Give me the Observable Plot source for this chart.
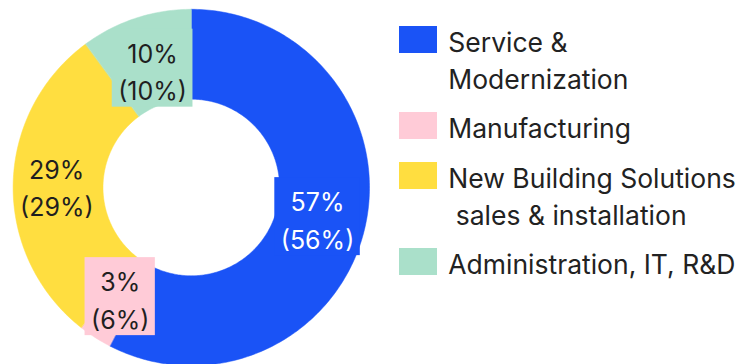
<!DOCTYPE html>
<html><head><meta charset="utf-8">
<script src="https://cdn.jsdelivr.net/npm/d3@7"></script>
<script src="https://cdn.jsdelivr.net/npm/@observablehq/plot@0.6"></script>
<style>
body{margin:0;background:#fff;font-family:Inter,"Noto Sans",sans-serif;}
#wrap{position:relative;width:741px;height:364px;overflow:hidden;background:#fff}
#chart{position:absolute;left:0;top:0}
#legend{position:absolute;left:399px;top:23.6px;font-size:26.5px;line-height:37px;color:#222;font-family:Inter,sans-serif}
.item{display:flex;align-items:flex-start;margin-bottom:12.5px}
.sw{width:38px;height:27px;margin-right:11.3px;margin-top:2.4px;flex:none}
.lab{white-space:pre}
</style></head><body><div id="wrap"><div id="chart"></div><div id="legend"></div></div>
<script>
const categories = ["Service & Modernization", "Manufacturing", "New Building Solutions sales & installation", "Administration, IT, R&D"];
const legendLabels = ["Service &\nModernization", "Manufacturing", "New Building Solutions\n sales & installation", "Administration, IT, R&D"];
const shares = [57, 3, 29, 10];
const priorShares = [56, 6, 29, 10];
const colors = ["#1a53f6", "#ffcbd7", "#ffde40", "#aae0ca"];
const labelColors = ["#ffffff", "#1f1f1f", "#1f1f1f", "#1f1f1f"];

// layout (not data)
const W = 385, H = 364, cxPx = 190.8, cyPx = 187, R = 178.2;
const inner = 88.3 / 178.2, outer = 1;
const labelRadius = [0.729, 0.738, 0.755, 0.696];
const labelBox = [true, true, false, true];
const FS = 25;

const pie = d3.pie().sort(null).value(d => d)(shares);
const poly = [];
const labels = [];
pie.forEach((p, i) => {
  const n = Math.max(8, Math.ceil((p.endAngle - p.startAngle) * 60));
  for (let k = 0; k <= n; k++) {
    const a = p.startAngle + (p.endAngle - p.startAngle) * k / n;
    poly.push({cat: categories[i], x: outer * Math.sin(a), y: outer * Math.cos(a)});
  }
  for (let k = n; k >= 0; k--) {
    const a = p.startAngle + (p.endAngle - p.startAngle) * k / n;
    poly.push({cat: categories[i], x: inner * Math.sin(a), y: inner * Math.cos(a)});
  }
  const m = (p.startAngle + p.endAngle) / 2;
  const lr = labelRadius[i];
  labels.push({cat: categories[i], x: lr * Math.sin(m), y: lr * Math.cos(m), box: labelBox[i],
    text: `${shares[i]}%\n(${priorShares[i]}%)`, second: `(${priorShares[i]}%)`, fill: labelColors[i], bg: colors[i]});
});

const ctx = document.createElement("canvas").getContext("2d");
ctx.font = `${FS}px Inter`;

const marks = [
  Plot.line(poly, {x: "x", y: "y", z: "cat", fill: "cat", stroke: "cat", strokeWidth: 0.5, curve: "linear-closed"})
];
labels.filter(l => l.box).forEach(l => {
  const hw = ctx.measureText(l.second).width / 2 + 6;
  marks.push(Plot.rect([l], {x1: "x", x2: "x", y1: "y", y2: "y", fill: l.bg,
    insetLeft: -hw, insetRight: -hw, insetTop: -40.5, insetBottom: -37.5}));
});
labels.forEach(l => {
  marks.push(Plot.text([l], {x: "x", y: "y", text: "text", fill: l.fill, fontSize: FS, lineHeight: 1.5, fontFamily: "Inter"}));
});

const chart = Plot.plot({
  width: W, height: H, margin: 0,
  style: {background: "transparent"},
  x: {domain: [-cxPx / R, (W - cxPx) / R], axis: null},
  y: {domain: [-(H - cyPx) / R, cyPx / R], axis: null},
  color: {domain: categories, range: colors},
  marks
});
document.getElementById("chart").appendChild(chart);

const leg = document.getElementById("legend");
categories.forEach((c, i) => {
  const it = document.createElement("div");
  it.className = "item";
  const sw = document.createElement("div");
  sw.className = "sw"; sw.style.background = colors[i];
  const lab = document.createElement("div");
  lab.className = "lab"; lab.textContent = legendLabels[i];
  it.appendChild(sw); it.appendChild(lab);
  leg.appendChild(it);
});
</script></body></html>
